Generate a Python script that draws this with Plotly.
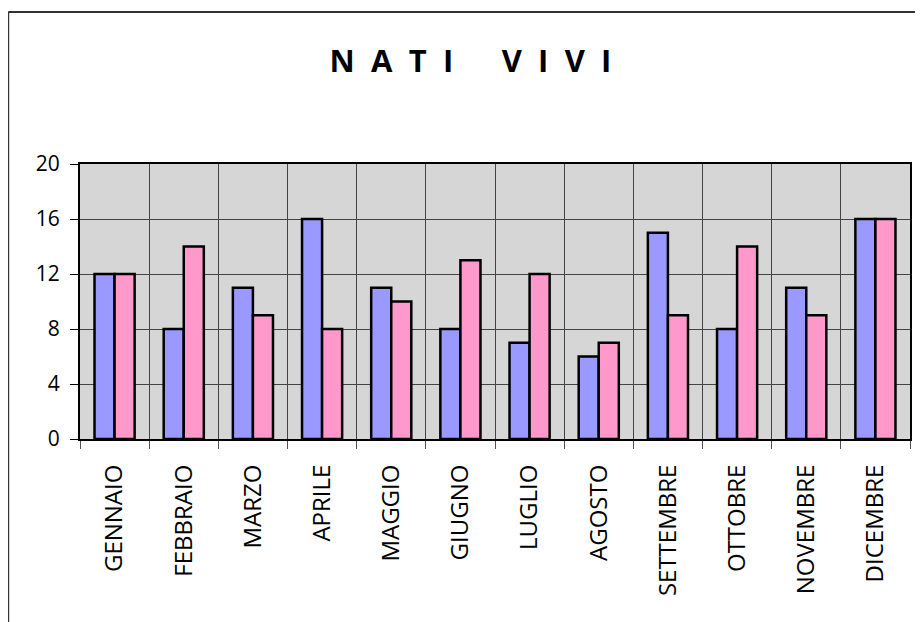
import plotly.graph_objects as go

mesi = ["GENNAIO", "FEBBRAIO", "MARZO", "APRILE", "MAGGIO", "GIUGNO",
        "LUGLIO", "AGOSTO", "SETTEMBRE", "OTTOBRE", "NOVEMBRE", "DICEMBRE"]
maschi = [12, 8, 11, 16, 11, 8, 7, 6, 15, 8, 11, 16]
femmine = [12, 14, 9, 8, 10, 13, 12, 7, 9, 14, 9, 16]
y_ticks = [0, 4, 8, 12, 16, 20]

FONT = "Comic Sans MS, Open Sans, sans-serif"

# letter-spaced title as in the original sheet
sep = "&nbsp;&#8201;&#8202;"
word_gap = "&nbsp;" * 6
title_text = sep.join("NATI") + word_gap + sep.join("VIVI")

fig = go.Figure()
fig.add_trace(go.Bar(
    x=mesi, y=maschi, name="Maschi",
    marker=dict(color="#9999FF", line=dict(color="black", width=2.5)),
))
fig.add_trace(go.Bar(
    x=mesi, y=femmine, name="Femmine",
    marker=dict(color="#FF99CC", line=dict(color="black", width=2.5)),
))

# outer frame of the original sheet (top and left edges only)
frame = dict(type="line", xref="paper", yref="paper",
             line=dict(color="#333", width=2))
fig.add_shape(frame, x0=-0.0865, x1=1.05, y0=1.5527, y1=1.5527)
fig.add_shape(frame, x0=-0.0865, x1=-0.0865, y0=1.5527, y1=-0.7)

fig.update_layout(
    width=915, height=614,
    title=dict(
        text=title_text,
        x=462.5 / 915, xanchor="center", y=0.9137, yanchor="middle",
        font=dict(family=FONT, size=31, color="black", weight="bold"),
    ),
    barmode="group", bargap=0.42, bargroupgap=0,
    showlegend=False,
    plot_bgcolor="#d6d6d6", paper_bgcolor="white",
    margin=dict(l=72, r=11, t=156, b=183),
    xaxis=dict(
        type="category", tickson="boundaries", tickangle=-90,
        ticks="outside", ticklen=8, tickcolor="#555",
        showgrid=True, gridcolor="#444", gridwidth=1,
        showline=True, linecolor="black", linewidth=2, mirror=True,
        tickfont=dict(family=FONT, size=24, color="black"),
        ticklabelstandoff=14,
    ),
    yaxis=dict(
        range=[0, 20], tickvals=y_ticks,
        ticks="outside", ticklen=8, tickcolor="black",
        showgrid=True, gridcolor="#444", gridwidth=1, zeroline=False,
        showline=True, linecolor="black", linewidth=2, mirror=True,
        tickfont=dict(family=FONT, size=21, color="black"),
        ticklabelstandoff=6,
    ),
)

fig.write_html("out.html")
